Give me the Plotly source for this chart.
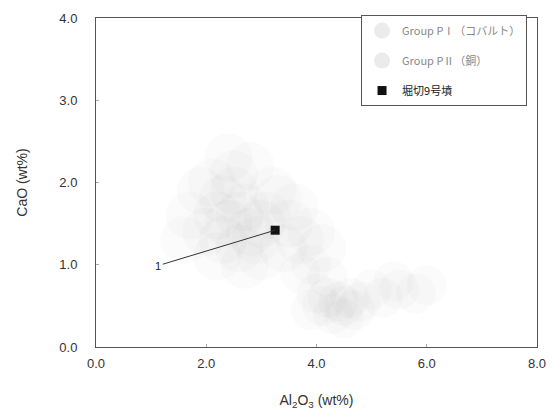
import plotly.graph_objects as go

# ---- data ----
pi_name = "Group PⅠ（コバルト）"
pi_x = [1.9, 2.1, 2.3, 2.5, 2.7, 2.2, 2.4, 2.6, 2.8, 3.0, 2.0, 2.3, 2.6, 2.9, 3.1, 3.3,
        3.5, 3.7, 2.5, 2.8, 3.4, 3.6, 3.9, 4.1, 2.2, 2.7, 3.0, 1.7, 1.6, 2.4, 3.2]
pi_y = [1.9, 2.0, 1.8, 1.9, 1.7, 1.6, 1.5, 1.6, 1.4, 1.5, 1.4, 1.3, 1.2, 1.3, 1.6, 1.8,
        1.5, 1.3, 2.1, 2.2, 1.2, 1.7, 1.4, 1.2, 1.1, 1.0, 1.1, 1.6, 1.3, 2.3, 1.9]

pii_name = "Group PⅡ（銅）"
pii_x = [3.9, 4.1, 4.3, 4.5, 4.7, 4.2, 4.4, 4.6, 4.0, 4.8, 5.2, 5.5, 5.8, 6.0, 5.4,
         3.7, 3.9, 4.2, 5.0, 4.5]
pii_y = [0.45, 0.5, 0.4, 0.5, 0.45, 0.6, 0.55, 0.6, 0.65, 0.55, 0.6, 0.7, 0.65, 0.75,
         0.8, 0.9, 1.0, 0.85, 0.7, 0.35]

hk_name = "堀切9号墳"
hk_x = [3.25]
hk_y = [1.42]
hk_label = "1"
label_x = 1.13
label_y = 0.99

x_ticks = [0, 2, 4, 6, 8]
x_ticklabels = ["0.0", "2.0", "4.0", "6.0", "8.0"]
y_ticks = [0, 1, 2, 3, 4]
y_ticklabels = ["0.0", "1.0", "2.0", "3.0", "4.0"]

FONT = "Liberation Sans, Noto Sans CJK JP, sans-serif"

fig = go.Figure()
fig.add_trace(go.Scatter(
    x=pi_x, y=pi_y, mode="markers", name="<span style='color:#888'>" + pi_name + "</span>",
    legendgroup="a",
    marker=dict(size=48, color="#9a9a9a", opacity=0.035, line=dict(width=0)),
))
fig.add_trace(go.Scatter(
    x=pii_x, y=pii_y, mode="markers", name="<span style='color:#888'>" + pii_name + "</span>",
    legendgroup="b",
    marker=dict(size=40, color="#9a9a9a", opacity=0.04, line=dict(width=0)),
))
fig.add_trace(go.Scatter(
    x=hk_x, y=hk_y, mode="markers", name="<span style='color:#222'>" + hk_name + "</span>",
    legendgroup="c",
    marker=dict(size=9, color="#111", symbol="square", line=dict(width=0)),
))

fig.add_annotation(
    x=hk_x[0], y=hk_y[0], xref="x", yref="y",
    ax=label_x, ay=label_y, axref="x", ayref="y",
    text=hk_label, showarrow=True, arrowhead=0, arrowwidth=1, arrowcolor="#333",
    font=dict(size=11, color="#222", family=FONT),
)

fig.update_xaxes(
    range=[0, 8], tickvals=x_ticks, ticktext=x_ticklabels, automargin=False,
    showline=True, linecolor="#555", linewidth=1, mirror=True,
    showgrid=False, zeroline=False, ticks="inside", ticklen=3, tickcolor="#aaa",
    ticklabelstandoff=4,
    tickfont=dict(size=13, color="#333", family=FONT),
    title=dict(text="Al<sub>2</sub>O<sub>3</sub> (wt%)", font=dict(size=14, color="#333", family=FONT), standoff=25),
)
fig.update_yaxes(
    range=[0, 4], tickvals=y_ticks, ticktext=y_ticklabels, automargin=False,
    showline=True, linecolor="#555", linewidth=1, mirror=True,
    showgrid=False, zeroline=False, ticks="inside", ticklen=3, tickcolor="#aaa",
    ticklabelstandoff=15,
    tickfont=dict(size=13, color="#333", family=FONT),
    title=dict(text="CaO (wt%)", font=dict(size=14, color="#333", family=FONT), standoff=28),
)

# page body has an 8px margin, so the figure is offset by 8px in the window
fig.update_layout(
    width=546, height=407,
    margin=dict(l=88, r=17, t=7, b=68),
    paper_bgcolor="white", plot_bgcolor="white",
    showlegend=True,
    legend=dict(
        x=0.601, y=1.009, xanchor="left", yanchor="top",
        bordercolor="#555", borderwidth=1, bgcolor="white",
        font=dict(size=11, family="Noto Sans CJK JP, sans-serif"),
        tracegroupgap=11, itemsizing="trace",
    ),
)

fig.write_html("out.html")
